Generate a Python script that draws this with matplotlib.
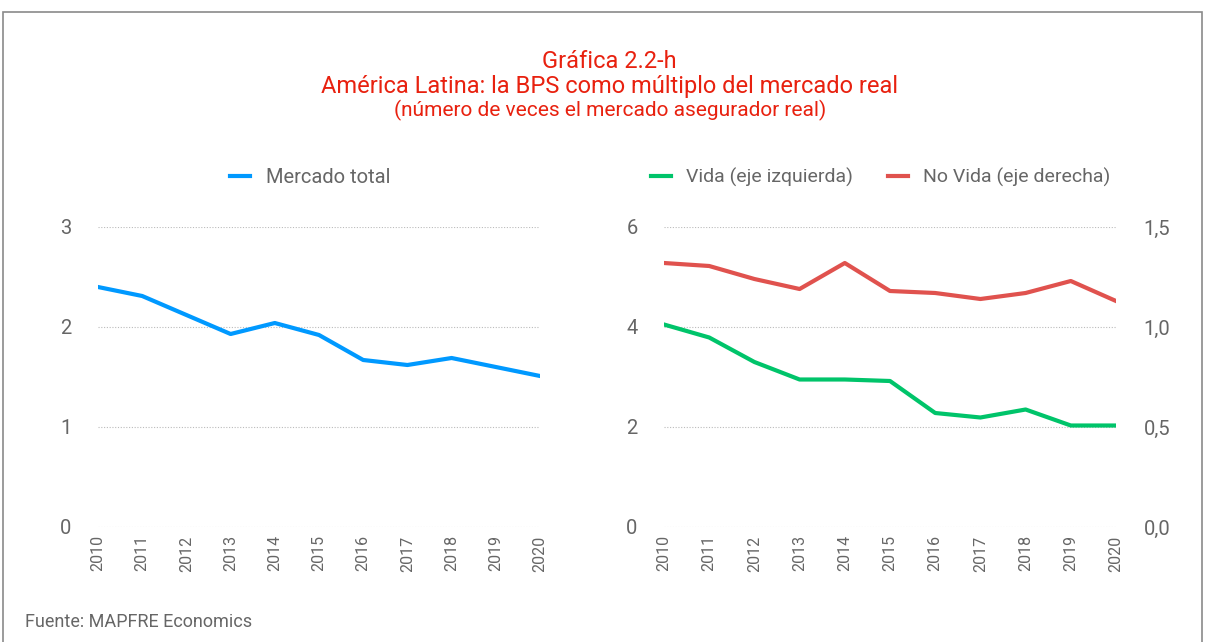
import matplotlib
matplotlib.use("Agg")
import matplotlib.pyplot as plt
from matplotlib.patches import Rectangle
from matplotlib.ticker import FuncFormatter

years = [2010, 2011, 2012, 2013, 2014, 2015, 2016, 2017, 2018, 2019, 2020]
mercado_total = [2.40, 2.31, 2.12, 1.93, 2.04, 1.92, 1.67, 1.62, 1.69, 1.60, 1.51]
vida = [4.05, 3.79, 3.30, 2.95, 2.95, 2.92, 2.28, 2.19, 2.35, 2.03, 2.03]
no_vida = [1.32, 1.305, 1.24, 1.19, 1.32, 1.18, 1.17, 1.14, 1.17, 1.23, 1.13]

azul = "#0099ff"
verde = "#00c46a"
rojo = "#e0524e"
gris = "#666666"
titulo_color = "#e8210f"

plt.rcParams['font.family'] = ['Roboto', 'DejaVu Sans']

fig = plt.figure(figsize=(12.05, 6.42), dpi=100)

# marco gris alrededor
fig.patches.append(Rectangle((3 / 1205, -0.05), 1199 / 1205, 1.05 - 12 / 642,
                             transform=fig.transFigure, fill=False,
                             edgecolor="#8a8a8a", linewidth=1.2))

fig.text(0.506, 1 - 61 / 642, "Gráfica 2.2-h", ha="center", va="center",
         color=titulo_color, fontsize=17)
fig.text(0.506, 1 - 86 / 642, "América Latina: la BPS como múltiplo del mercado real",
         ha="center", va="center", color=titulo_color, fontsize=17)
fig.text(0.506, 1 - 110 / 642, "(número de veces el mercado asegurador real)",
         ha="center", va="center", color=titulo_color, fontsize=15)


def estilo(ax):
    for s in ax.spines.values():
        s.set_visible(False)
    ax.tick_params(axis="both", length=0, colors=gris)
    ax.tick_params(axis="y", labelsize=14.5, pad=23)
    ax.tick_params(axis="x", labelsize=11.5, rotation=90, pad=6)
    ax.grid(axis="y", color="#bbbbbb", linestyle=(0, (1, 1.5)), linewidth=0.8)
    ax.set_xticks(years)
    ax.set_xlim(years[0], years[-1])
    for t in ax.get_yticklabels():
        t.set_horizontalalignment("center")


# panel izquierdo
ax1 = fig.add_axes([98 / 1205, 115 / 642, 442 / 1205, 300 / 642])
ax1.plot(years, mercado_total, color=azul, linewidth=3, label="Mercado total")
ax1.set_ylim(0, 3)
ax1.set_yticks([0, 1, 2, 3])
estilo(ax1)
ax1.legend(loc="center", bbox_to_anchor=(0.48, 1.165), frameon=False,
           fontsize=14.5, handlelength=1.0, handletextpad=0.8, labelcolor=gris)

# panel derecho
ax2 = fig.add_axes([664 / 1205, 115 / 642, 452 / 1205, 300 / 642])
l1, = ax2.plot(years, vida, color=verde, linewidth=3, label="Vida (eje izquierda)")
ax2.set_ylim(0, 6)
ax2.set_yticks([0, 2, 4, 6])
estilo(ax2)

ax3 = ax2.twinx()
l2, = ax3.plot(years, no_vida, color=rojo, linewidth=3, label="No Vida (eje derecha)")
ax3.set_ylim(0, 1.5)
ax3.set_yticks([0, 0.5, 1.0, 1.5])
ax3.yaxis.set_major_formatter(FuncFormatter(lambda v, p: f"{v:.1f}".replace(".", ",")))
for s in ax3.spines.values():
    s.set_visible(False)
ax3.tick_params(axis="y", length=0, colors=gris, labelsize=14.5, pad=20)

ax2.legend([l1, l2], [l1.get_label(), l2.get_label()], loc="center",
           bbox_to_anchor=(0.48, 1.165), ncol=2, frameon=False, fontsize=14,
           handlelength=1.0, handletextpad=0.8, columnspacing=1.8, labelcolor=gris)

fig.text(25 / 1205, 1 - 622 / 642, "Fuente: MAPFRE Economics", ha="left", va="center",
         color=gris, fontsize=13)

fig.savefig("out.png", dpi=100)
